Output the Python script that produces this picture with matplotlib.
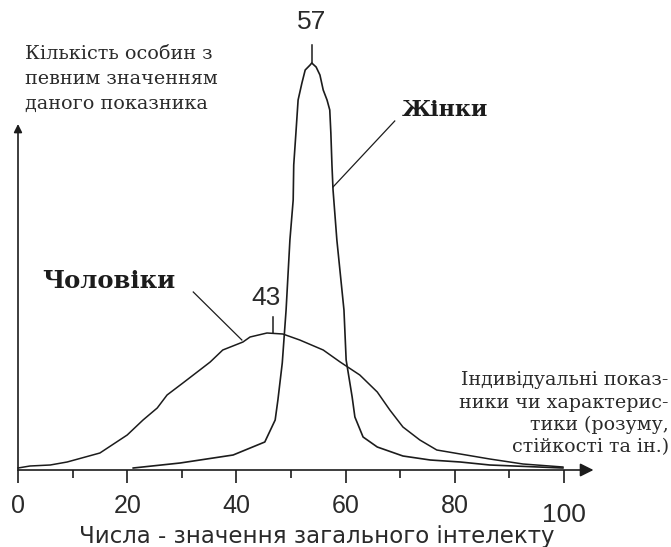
import matplotlib.pyplot as plt
import numpy as np

# men's curve (x = score, y = number of individuals, arbitrary units)
men_x = [0, 2.2, 5.9, 9.0, 15.0, 20.0, 22.9, 25.5, 27.3, 30.2, 33.3, 35.2, 37.5,
         41.2, 42.5, 45.6, 48.5, 51.6, 55.9, 59.0, 62.6, 65.8, 68.1, 70.5, 73.6,
         76.7, 81.0, 86.4, 92.5, 99.8]
men_y = [2, 4, 5, 8, 17, 35, 50, 62, 75, 87, 100, 108, 120,
         128, 133, 137, 136, 130, 120, 108, 95, 78, 60, 43, 30,
         20, 16, 11, 6, 3]

# women's curve
women_x = [21.1, 29.7, 39.4, 45.2, 47.1, 47.6, 48.4, 49.1, 49.8, 50.4, 50.5, 50.9,
           51.3, 52.0, 52.6, 53.5, 53.8, 54.6, 55.3, 55.9, 56.6, 57.1, 57.3, 57.5,
           57.7, 58.4, 59.7, 60.1, 61.2, 61.7, 63.2, 65.8, 70.5, 75.5, 81.0, 86.4, 99.8]
women_y = [2, 7, 15, 28, 50, 70, 107, 160, 230, 270, 305, 337,
           370, 387, 400, 405, 407, 403, 395, 380, 370, 360, 337, 305,
           280, 230, 160, 110, 73, 53, 33, 23, 14, 10, 8, 5, 2]

major_ticks = [0, 20, 40, 60, 80, 100]
minor_ticks = [10, 30, 50, 70, 90]
tick_labels = ['0', '20', '40', '60', '80', '100']

ylabel_lines = ['Кількість особин з', 'певним значенням', 'даного показника']
xnote_lines = ['Індивідуальні показ-', 'ники чи характерис-', 'тики (розуму,', 'стійкості та ін.)']

px = 5.46  # pixels per x unit
fig = plt.figure(figsize=(6.71, 5.47), dpi=100)
ax = fig.add_axes([0, 0, 1, 1])
ax.set_xlim(-18 / px, (671 - 18) / px)
ax.set_ylim(-77, 470)
ax.axis('off')

c = '#1c1c1c'
tc = '#2a2a2a'
serif = ['DejaVu Serif']
sans = ['Liberation Sans', 'DejaVu Sans']

# curves
ax.plot(men_x, men_y, color=c, lw=1.1)
ax.plot(women_x, women_y, color=c, lw=1.2)

# axes with arrows
ax.annotate('', xy=(105.4, 0), xytext=(0, 0),
            arrowprops=dict(arrowstyle='-|>', color=c, lw=1.2, mutation_scale=20,
                            shrinkA=0, shrinkB=0))
ax.annotate('', xy=(0, 346), xytext=(0, 0),
            arrowprops=dict(arrowstyle='-|>', color=c, lw=1.2, mutation_scale=12,
                            shrinkA=0, shrinkB=0))
ax.vlines(major_ticks, -13, 0, color=c, lw=1.2)
ax.vlines(minor_ticks, -8, 0, color=c, lw=1.2)
for t, lab in zip(major_ticks, tick_labels):
    yy = -45 if t == 100 else -36
    ax.text(t, yy, lab, ha='center', va='center', fontsize=19 if t == 100 else 18,
            family=sans, color=tc)

ax.text(54.8, -66, 'Числа - значення загального інтелекту', ha='center', va='center',
        fontsize=16.5, family=['DejaVu Sans'], color=tc)

# peak values
ax.plot([53.8, 53.8], [407, 425], color=c, lw=1.1)
ax.text(53.8, 448, '57', ha='center', va='center', fontsize=19, family=sans, color=tc)
ax.plot([46.7, 46.7], [137, 153], color=c, lw=1.1)
ax.text(45.4, 172, '43', ha='center', va='center', fontsize=19, family=sans, color=tc)

# series labels with leaders
ax.plot([69.0, 57.7], [349, 283], color=c, lw=0.9)
ax.text(70.3, 360, 'Жінки', ha='left', va='center', fontsize=16, fontweight='bold',
        family=serif, color=c)
ax.plot([32.1, 41.0], [178, 130], color=c, lw=0.9)
ax.text(4.4, 189, 'Чоловіки', ha='left', va='center', fontsize=17.5, fontweight='bold',
        family=serif, color=c)

# y-axis description
for i, line in enumerate(ylabel_lines):
    ax.text(1.3, 416 - i * 25, line, ha='left', va='center', fontsize=13.8,
            family=serif, color=tc)

# x-axis description
for i, line in enumerate(xnote_lines):
    ax.text(119.2, 90 - i * 22.5, line, ha='right', va='center', fontsize=13.7,
            family=serif, color=tc)

fig.savefig('out.png', dpi=100)
